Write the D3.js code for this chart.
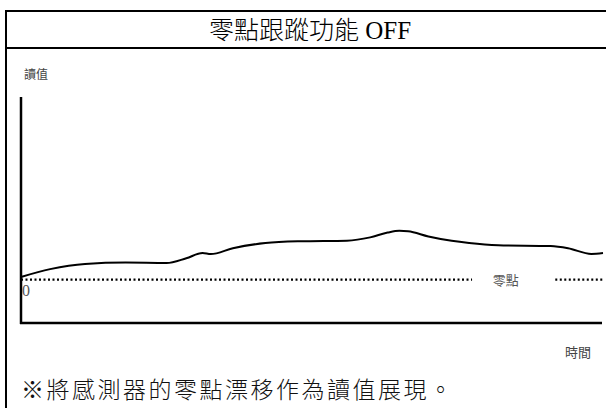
<!DOCTYPE html>
<html>
<head>
<meta charset="utf-8">
<script src="https://cdn.jsdelivr.net/npm/d3@7"></script>
<style>
  body { margin: 0; background: #fff; }
  svg { display: block; }
</style>
</head>
<body>
<div id="chart"></div>
<script>
// Sensor reading drifting away from the zero point (arbitrary units)
const times = [0, 5, 11, 18, 25, 28.4, 31.2, 32.6, 36.4, 42, 48, 56, 60, 63, 65, 66.5, 70, 74, 77, 82, 91, 94, 98, 100];
const readings = [0.6, 2.4, 3.6, 3.9, 3.8, 4.9, 6.1, 5.85, 7.2, 8.4, 8.8, 8.95, 9.7, 10.8, 11.2, 11.1, 9.9, 8.9, 8.4, 7.9, 7.7, 7.2, 5.9, 6.1];
const zeroValue = [0];
const titleText = "零點跟蹤功能 OFF";
const yLabel = "讀值";
const xLabel = "時間";
const zeroLabel = "零點";
const noteText = "※將感測器的零點漂移作為讀值展現。";

const width = 606;
const height = 408;

const svg = d3.select("#chart")
  .append("svg")
  .attr("width", width)
  .attr("height", height);

// Outer frame (open on the right and bottom, like the source)
svg.append("path")
  .attr("d", "M608,11 H6 V410")
  .attr("fill", "none")
  .attr("stroke", "#000")
  .attr("stroke-width", 2);

svg.append("line")
  .attr("x1", 6).attr("x2", 608)
  .attr("y1", 48).attr("y2", 48)
  .attr("stroke", "#000")
  .attr("stroke-width", 2);

svg.append("text")
  .attr("x", 310)
  .attr("y", 39)
  .attr("text-anchor", "middle")
  .style("font-family", "'Liberation Serif', 'Noto Sans CJK TC', serif")
  .style("font-size", "25px")
  .style("font-weight", 300)
  .style("fill", "#000")
  .text(titleText);

// Scales
const x = d3.scaleLinear().domain([0, 100]).range([21, 603]);
const y = d3.scaleLinear().domain([-10, 42]).range([323, 97]);

// Axes as plain lines
svg.append("line")
  .attr("x1", x(0)).attr("x2", x(0))
  .attr("y1", y(42)).attr("y2", y(-10) + 1)
  .attr("stroke", "#000")
  .attr("stroke-width", 2.5);

svg.append("line")
  .attr("x1", x(0) - 1).attr("x2", 602)
  .attr("y1", y(-10)).attr("y2", y(-10))
  .attr("stroke", "#000")
  .attr("stroke-width", 2.5);

// Zero line, dotted, broken around its label
const dotStyle = sel => sel
  .attr("stroke", "#000")
  .attr("stroke-width", 2.2)
  .attr("stroke-dasharray", "2,2.5");

svg.append("line")
  .attr("x1", x(0)).attr("x2", x(77.5))
  .attr("y1", y(zeroValue[0])).attr("y2", y(zeroValue[0]))
  .call(dotStyle);

svg.append("line")
  .attr("x1", x(91.8)).attr("x2", x(100))
  .attr("y1", y(zeroValue[0])).attr("y2", y(zeroValue[0]))
  .call(dotStyle);

svg.append("text")
  .attr("x", x(83.3))
  .attr("y", y(zeroValue[0]) + 5)
  .attr("text-anchor", "middle")
  .style("font-family", "'Noto Sans CJK TC', sans-serif")
  .style("font-size", "13px")
  .style("fill", "#555")
  .text(zeroLabel);

svg.append("text")
  .attr("x", 22)
  .attr("y", y(zeroValue[0]) + 16)
  .style("font-family", "'Liberation Serif', serif")
  .style("font-size", "16px")
  .style("fill", "#555")
  .text("0");

// Reading curve
const line = d3.line()
  .x(d => x(d[0]))
  .y(d => y(d[1]))
  .curve(d3.curveMonotoneX);

svg.append("path")
  .datum(times.map((t, i) => [t, readings[i]]))
  .attr("d", line)
  .attr("fill", "none")
  .attr("stroke", "#000")
  .attr("stroke-width", 2);

// Axis labels
svg.append("text")
  .attr("x", 24)
  .attr("y", 79)
  .style("font-family", "'Noto Sans CJK TC', sans-serif")
  .style("font-size", "12px")
  .style("fill", "#444")
  .text(yLabel);

svg.append("text")
  .attr("x", 578)
  .attr("y", 357)
  .attr("text-anchor", "middle")
  .style("font-family", "'Noto Sans CJK TC', sans-serif")
  .style("font-size", "13px")
  .style("fill", "#444")
  .text(xLabel);

// Footnote
svg.append("text")
  .attr("x", 21)
  .attr("y", 398)
  .style("font-family", "'Noto Sans CJK TC', sans-serif")
  .style("font-size", "23px")
  .style("font-weight", 300)
  .style("letter-spacing", "2.5px")
  .style("fill", "#111")
  .text(noteText);
</script>
</body>
</html>
